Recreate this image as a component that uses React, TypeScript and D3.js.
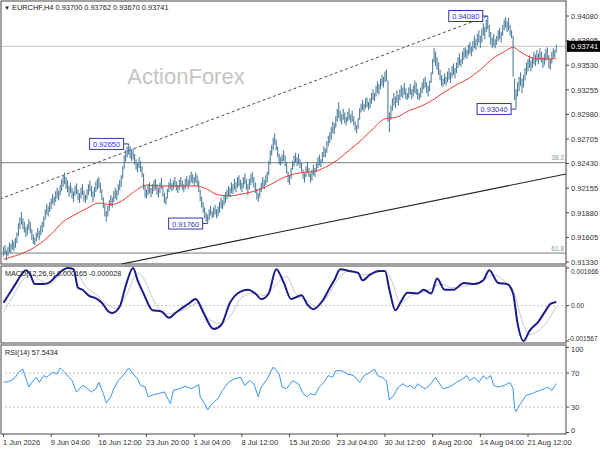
import * as d3 from 'd3';

// ---- data ----

const symbolTitle = 'EURCHF,H4';
const lastBarOhlc = ['0.93700', '0.93762', '0.93670', '0.93741'];
const lastClose = 0.93741;

// H4 bar highs and lows, pips above 0.90000 (one row = 32 bars)
const barHigh = [
  150, 152, 146, 150, 155, 153, 158, 156, 160, 166, 176, 183, 189, 182, 178, 172, 175, 181, 178, 170, 164, 160, 166, 171, 168, 174, 178, 184, 192, 198, 195, 200,
  204, 209, 206, 212, 216, 213, 219, 225, 229, 233, 228, 224, 218, 222, 216, 212, 218, 221, 214, 210, 216, 220, 213, 208, 214, 220, 224, 218, 212, 217, 223, 226,
  228, 222, 214, 205, 197, 190, 196, 202, 208, 205, 212, 216, 213, 220, 225, 230, 240, 252, 258, 262, 265, 262, 258, 260, 254, 248, 244, 250, 246, 240, 232, 218,
  214, 220, 222, 216, 220, 224, 226, 220, 216, 222, 227, 218, 210, 206, 215, 222, 226, 221, 224, 228, 223, 219, 225, 228, 224, 220, 226, 229, 225, 230, 234, 231,
  228, 233, 230, 224, 214, 206, 200, 194, 188, 186, 192, 196, 190, 194, 197, 192, 195, 200, 205, 202, 208, 211, 214, 218, 216, 222, 220, 226, 222, 228, 230, 225,
  222, 228, 232, 226, 220, 226, 231, 234, 228, 222, 215, 210, 216, 222, 228, 225, 230, 234, 246, 258, 264, 272, 277, 270, 262, 254, 250, 253, 258, 252, 244, 234,
  230, 238, 246, 252, 255, 250, 254, 248, 244, 236, 232, 240, 245, 238, 232, 236, 242, 238, 244, 250, 253, 248, 256, 262, 260, 268, 274, 278, 284, 290, 288, 296,
  304, 312, 302, 298, 304, 300, 295, 301, 305, 298, 302, 296, 290, 286, 294, 305, 310, 314, 310, 316, 317, 312, 316, 322, 326, 322, 330, 335, 332, 338, 342, 340,
  346, 348, 336, 300, 308, 316, 322, 318, 325, 320, 326, 331, 328, 333, 327, 322, 328, 332, 326, 330, 336, 333, 326, 322, 328, 334, 338, 340, 334, 330, 336, 345,
  360, 372, 368, 362, 356, 348, 342, 338, 344, 340, 346, 350, 345, 352, 355, 350, 356, 362, 366, 360, 368, 372, 373, 370, 376, 379, 374, 380, 386, 382, 388, 392,
  386, 394, 400, 396, 404, 408, 398, 390, 384, 388, 382, 386, 392, 395, 390, 398, 404, 407, 402, 406, 398, 392, 386, 338, 326, 334, 340, 345, 338, 342, 350, 356,
  360, 364, 358, 362, 368, 365, 370, 366, 372, 368, 362, 366, 371, 373, 364, 360, 368, 372, 370, 376,
];
const barLow = [
  139, 141, 135, 140, 144, 143, 147, 145, 149, 154, 162, 170, 175, 170, 166, 161, 163, 169, 165, 158, 153, 152, 156, 160, 158, 163, 166, 172, 180, 186, 184, 189,
  192, 198, 196, 200, 204, 202, 207, 212, 217, 220, 215, 211, 206, 210, 204, 200, 207, 209, 202, 199, 204, 208, 201, 199, 203, 208, 212, 206, 200, 205, 211, 214,
  216, 210, 202, 193, 184, 178, 184, 190, 196, 194, 200, 204, 202, 208, 213, 217, 226, 237, 245, 250, 253, 249, 246, 248, 242, 236, 233, 238, 234, 228, 214, 205,
  204, 208, 210, 205, 209, 212, 214, 208, 205, 210, 215, 206, 199, 197, 204, 211, 215, 212, 214, 217, 213, 210, 214, 217, 214, 211, 215, 218, 215, 219, 222, 221,
  218, 222, 218, 211, 201, 194, 188, 182, 178, 176, 180, 185, 182, 183, 186, 182, 184, 188, 193, 192, 196, 199, 203, 206, 205, 210, 209, 214, 211, 216, 218, 214,
  211, 216, 220, 214, 208, 214, 219, 222, 216, 210, 203, 200, 205, 211, 216, 214, 219, 222, 230, 242, 252, 258, 264, 258, 250, 242, 241, 243, 246, 240, 232, 222,
  219, 226, 236, 240, 244, 240, 242, 238, 234, 226, 222, 228, 233, 228, 222, 224, 230, 228, 234, 238, 241, 239, 244, 250, 250, 255, 262, 266, 270, 277, 276, 283,
  290, 294, 290, 287, 292, 288, 286, 290, 292, 288, 290, 286, 280, 277, 282, 292, 300, 303, 301, 305, 306, 303, 305, 310, 314, 313, 318, 322, 320, 326, 330, 328,
  334, 335, 290, 278, 292, 302, 308, 305, 311, 308, 314, 318, 316, 320, 315, 314, 316, 320, 315, 318, 322, 320, 315, 314, 317, 322, 326, 328, 322, 318, 324, 333,
  343, 356, 352, 348, 342, 336, 330, 329, 332, 330, 334, 337, 333, 339, 342, 338, 344, 350, 353, 351, 355, 359, 362, 360, 364, 366, 363, 368, 372, 370, 375, 378,
  372, 378, 386, 382, 390, 393, 384, 376, 372, 374, 372, 376, 380, 382, 378, 386, 392, 395, 390, 392, 386, 383, 340, 314, 304, 318, 324, 330, 322, 328, 336, 342,
  346, 350, 346, 350, 354, 352, 357, 354, 359, 356, 350, 353, 358, 360, 350, 348, 355, 361, 362, 367,
];

// red moving average: [bar, pips above 0.90000]
const maLine: [number, number][] = [
  [0, 136], [8, 140], [16, 145], [24, 153], [32, 164], [40, 178], [48, 186], [56, 193],
  [64, 199], [72, 197], [80, 202], [88, 212], [96, 219], [104, 218], [112, 218], [120, 218],
  [128, 218], [136, 215], [144, 208], [152, 207], [160, 209], [168, 212], [176, 217], [184, 224],
  [192, 230], [200, 233], [208, 234], [216, 239], [224, 247], [232, 258], [240, 269], [248, 282],
  [256, 293], [264, 295], [272, 302], [280, 307], [288, 314], [296, 323], [304, 331], [312, 338],
  [320, 348], [328, 360], [336, 368], [342, 373], [346, 369], [352, 363], [360, 360], [368, 360], [371, 361],
];

// MACD(12,26,9): [bar, value x 1e6]
const macdMain: [number, number][] = [
  [0, 125], [4, 539], [8, 953], [12, 1368], [15, 1566], [18, 1368], [21, 953], [27, 953], [31, 1036],
  [35, 1285], [39, 1533], [43, 1666], [47, 1616], [50, 787], [53, 704], [57, 456], [63, 290], [66, 125],
  [71, -291], [73, -324], [78, -41], [82, 870], [87, 1666], [90, 1119], [94, 539], [100, -208], [106, -257],
  [111, -539], [116, -291], [124, 75], [129, 290], [134, -291], [141, -1037], [146, -871], [152, 125],
  [159, 621], [164, 704], [169, 539], [173, 290], [178, 539], [183, 1616], [188, 1036], [193, 290],
  [200, 456], [204, 42], [208, -158], [214, 207], [219, 787], [222, 1119], [226, 1616], [232, 1533],
  [238, 1450], [241, 1119], [246, 1368], [252, 1533], [256, 1533], [259, 704], [263, -208], [267, 207],
  [271, 572], [278, 539], [282, 704], [287, 539], [291, 1202], [296, 704], [302, 704], [309, 1003],
  [316, 953], [322, 1119], [326, 1566], [332, 1003], [338, 953], [342, 539], [345, -788], [349, -1567],
  [353, -1120], [359, -705], [364, -208], [367, 75], [371, 165],
];
const macdSignal: [number, number][] = [
  [0, -291], [6, 373], [14, 1202], [19, 1368], [25, 1119], [31, 953], [37, 1285], [45, 1533], [50, 1368],
  [55, 870], [63, 456], [70, 42], [76, -125], [83, 539], [90, 1450], [94, 1202], [101, 207], [108, -373],
  [116, -291], [124, -91], [131, 125], [137, -539], [146, -800], [153, -373], [160, 373], [167, 539],
  [175, 456], [183, 953], [190, 1285], [196, 539], [204, 207], [210, -41], [217, 373], [224, 1119],
  [232, 1533], [241, 1368], [249, 1450], [256, 1533], [261, 1036], [266, 125], [274, 456], [283, 621],
  [294, 953], [301, 787], [310, 870], [320, 1036], [329, 1368], [337, 1036], [343, 539], [347, -456],
  [353, -1286], [357, -1203], [364, -788], [371, -28],
];
const macdLast = ['0.000165', '-0.000028'];
const macdRange = [-0.001567, 0.001666];

// RSI(14): [bar, value]
const rsiLine: [number, number][] = [
  [0, 59], [3, 60], [5, 61], [8, 65], [10, 70.8], [13, 74.6], [14, 69], [17, 53.5], [19, 59], [22, 65],
  [24, 59], [27, 67], [29, 65], [33, 70.8], [36, 69], [38, 76], [41, 70.8], [44, 65], [46, 61], [49, 47.7],
  [53, 55.4], [55, 53.5], [59, 47.7], [62, 51.5], [64, 59], [67, 45.8], [69, 35], [72, 42], [74, 51.5],
  [77, 61], [81, 68.8], [84, 76], [87, 68.8], [90, 63], [92, 55.4], [95, 53.5], [97, 42], [100, 44],
  [104, 45.8], [108, 47.7], [112, 34], [114, 49.6], [118, 51.5], [122, 54.5], [126, 51.5], [130, 55.4],
  [131, 56.5], [132, 42], [135, 34], [137, 26.5], [140, 34], [144, 40], [147, 49.6], [151, 59], [155, 63],
  [159, 65], [162, 55.4], [165, 61], [168, 57.3], [171, 42], [173, 53.5], [177, 63], [181, 77], [185, 68.8],
  [187, 53.5], [190, 51.5], [194, 61], [198, 57.3], [201, 45.8], [204, 42], [206, 45.8], [209, 44],
  [212, 53.5], [215, 59], [218, 66.9], [221, 65], [223, 72.7], [227, 72.7], [231, 68.8], [235, 67],
  [239, 59], [242, 67], [246, 70.8], [249, 74.6], [251, 67], [254, 65], [257, 61], [259, 38], [262, 44],
  [265, 53.5], [268, 57.3], [271, 53.5], [273, 55.4], [276, 51.5], [278, 57.3], [281, 53.5], [283, 51.5],
  [286, 55.4], [290, 65], [292, 59], [295, 51.5], [299, 53.5], [301, 55.4], [304, 59], [308, 63],
  [311, 66.9], [313, 61], [316, 65], [319, 59], [322, 66.9], [324, 63], [327, 66.9], [329, 55.4],
  [332, 53.5], [336, 55.4], [340, 59], [342, 51.5], [343, 28.5], [344, 24.6], [347, 34], [351, 44],
  [355, 45.8], [357, 47.7], [360, 49.6], [363, 51.5], [365, 53.5], [368, 49.6], [371, 57.5],
];
const rsiLast = '57.5434';
const rsiLevels = [70, 30];
const rsiTicks = [100, 70, 30, 0];

const priceTicks = [0.9133, 0.91605, 0.9188, 0.92155, 0.9243, 0.92705, 0.9298, 0.93255, 0.9353, 0.93805, 0.9408];
const swingLabels = [
  { bar: 84, price: 0.9265 },
  { bar: 137, price: 0.9176 },
  { bar: 325, price: 0.9408 },
  { bar: 344, price: 0.9304 },
];
const fibLevels = [
  { name: '38.2', price: 0.9244 },
  { name: '61.8', price: 0.9143 },
];
const dashedTrend: [number, number][] = [[-2.35, 0.92035], [325, 0.9408]];
const solidTrend: [number, number][] = [[79, 0.91306], [377.5, 0.92314]];

const dateLabels = [
  '1 Jun 2026', '9 Jun 04:00', '16 Jun 12:00', '23 Jun 20:00', '1 Jul 04:00', '8 Jul 12:00',
  '15 Jul 20:00', '23 Jul 04:00', '30 Jul 12:00', '6 Aug 20:00', '14 Aug 04:00', '21 Aug 12:00',
];
const barsPerDateLabel = 32;

// ---- layout ----
const plotLeft = 1;
const plotRight = 566;
const mainTop = 1;
const mainBottom = 264;
const macdTop = 266;
const macdBottom = 343;
const rsiTop = 345;
const rsiBottom = 434;

const font = '"Liberation Sans", Arial, sans-serif';
const axisText = '#303030';
const labelBlue = '#3434b0';

const pip = (v: number) => 0.9 + v / 10000;

export default function App() {
  const x = d3.scaleLinear().domain([0, 371]).range([3.5, 556.3]);
  const y = d3.scaleLinear().domain([0.9133, 0.9408]).range([262, 16]);
  const yMacd = d3.scaleLinear().domain(macdRange).range([341, 268]);
  const yRsi = d3.scaleLinear().domain([0, 100]).range([432.5, 347.5]);

  const maPath = d3.line<[number, number]>()
    .x(d => x(d[0]))
    .y(d => y(pip(d[1])))
    .curve(d3.curveMonotoneX)(maLine);

  const macdGen = d3.line<[number, number]>()
    .x(d => x(d[0]))
    .y(d => yMacd(d[1] / 1e6))
    .curve(d3.curveMonotoneX);

  const rsiPath = d3.line<[number, number]>()
    .x(d => x(d[0]))
    .y(d => yRsi(d[1]))(rsiLine);

  const clampIn = (v: number, lo: number, hi: number) => Math.min(Math.max(v, lo), hi);
  const nBars = Math.min(barHigh.length, barLow.length);

  return (
    <svg width={600} height={450} style={{ position: 'fixed', left: 0, top: 0, background: '#fff' }} fontFamily={font}>
      <defs>
        <clipPath id="main-clip">
          <rect x={plotLeft} y={mainTop} width={plotRight - plotLeft} height={mainBottom - mainTop} />
        </clipPath>
      </defs>

      {/* header */}
      <text x={4} y={10} fontSize={6} fill="#222">▼</text>
      <text x={12} y={10} fontSize={7.4} fill="#222">
        {symbolTitle}  {lastBarOhlc.join(' ')}
      </text>

      {/* watermark */}
      <text x={186} y={84} fontSize={22} fill="#c4c4c4" textAnchor="middle">ActionForex</text>

      <g clipPath="url(#main-clip)">
        {/* current price line */}
        <line x1={plotLeft} x2={plotRight} y1={y(lastClose)} y2={y(lastClose)} stroke="#c8c8c8" />

        {/* fibonacci levels */}
        {fibLevels.map(f => (
          <g key={f.name}>
            <line x1={plotLeft} x2={plotRight} y1={y(f.price)} y2={y(f.price)} stroke="#6e7e7e" />
            <text x={plotRight - 2} y={y(f.price) - 2.5} fontSize={6.5} fill="#8a9494" textAnchor="end">{f.name}</text>
          </g>
        ))}

        {/* trend lines */}
        <line x1={x(dashedTrend[0][0])} y1={y(dashedTrend[0][1])} x2={x(dashedTrend[1][0])} y2={y(dashedTrend[1][1])}
          stroke="#4a4a4a" strokeDasharray="3,2.5" />
        <line x1={x(solidTrend[0][0])} y1={y(solidTrend[0][1])} x2={x(solidTrend[1][0])} y2={y(solidTrend[1][1])}
          stroke="#222" strokeWidth={1.1} />

        {/* price bars */}
        {d3.range(nBars).map(i => (
          <line key={i} x1={x(i)} x2={x(i)} y1={y(pip(barHigh[i]))} y2={y(pip(barLow[i]))}
            stroke="#4f7f9e" strokeWidth={1.1} />
        ))}

        {/* moving average */}
        <path d={maPath ?? ''} fill="none" stroke="#f03a32" strokeWidth={1} />

        {/* swing high / low labels */}
        {swingLabels.map(s => {
          const bx = x(s.bar);
          const by = y(s.price);
          const right = bx - 5;
          return (
            <g key={s.bar}>
              <line x1={right} x2={bx} y1={by} y2={by} stroke={labelBlue} />
              <rect x={right - 34} y={by - 5.5} width={34} height={11} fill="#fff" stroke={labelBlue} />
              <text x={right - 17} y={by + 3} fontSize={7.5} fill={labelBlue} textAnchor="middle">{s.price.toFixed(5)}</text>
            </g>
          );
        })}
      </g>

      {/* panel frames */}
      <rect x={plotLeft} y={mainTop} width={plotRight - plotLeft} height={mainBottom - mainTop} fill="none" stroke="#444" />
      <rect x={plotLeft} y={macdTop} width={plotRight - plotLeft} height={macdBottom - macdTop} fill="none" stroke="#444" />
      <rect x={plotLeft} y={rsiTop} width={plotRight - plotLeft} height={rsiBottom - rsiTop} fill="none" stroke="#444" />

      {/* price axis */}
      {priceTicks.map(t => (
        <g key={t}>
          <line x1={plotRight} x2={plotRight + 3} y1={y(t)} y2={y(t)} stroke="#444" />
          <text x={plotRight + 5} y={y(t) + 2.8} fontSize={7.5} fill={axisText}>{t.toFixed(5)}</text>
        </g>
      ))}
      <rect x={plotRight + 1} y={y(lastClose) - 5.5} width={34} height={11} fill="#000" />
      <text x={plotRight + 5} y={y(lastClose) + 2.8} fontSize={7.5} fill="#fff">{lastClose.toFixed(5)}</text>

      {/* MACD panel */}
      <line x1={plotLeft} x2={plotRight} y1={yMacd(0)} y2={yMacd(0)} stroke="#c4c4c4" strokeDasharray="2,2" />
      <path d={macdGen(macdSignal) ?? ''} fill="none" stroke="#c8c8c8" strokeWidth={1} />
      <path d={macdGen(macdMain) ?? ''} fill="none" stroke="#1b1b8a" strokeWidth={2} />
      <text x={5} y={276} fontSize={7.2} fill="#222">MACD(12,26,9) {macdLast.join(' ')}</text>
      {[macdRange[1], 0, macdRange[0]].map(v => (
        <g key={v}>
          <line x1={plotRight} x2={plotRight + 3} y1={yMacd(v)} y2={yMacd(v)} stroke="#444" />
          <text x={v < 0 ? plotRight + 2 : plotRight + 5} y={clampIn(yMacd(v), macdTop + 5, macdBottom - 5) + 2.6}
            fontSize={6.6} fill={axisText}>
            {v === 0 ? '0.00' : v.toFixed(6)}
          </text>
        </g>
      ))}

      {/* RSI panel */}
      {rsiLevels.map(l => (
        <line key={l} x1={plotLeft} x2={plotRight} y1={yRsi(l)} y2={yRsi(l)} stroke="#c4c4c4" strokeDasharray="2,2" />
      ))}
      <path d={rsiPath ?? ''} fill="none" stroke="#3795f0" strokeWidth={1} />
      <text x={5} y={355} fontSize={7.2} fill="#222">RSI(14) {rsiLast}</text>
      {rsiTicks.map(v => (
        <g key={v}>
          <line x1={plotRight} x2={plotRight + 3} y1={yRsi(v)} y2={yRsi(v)} stroke="#444" />
          <text x={plotRight + 5} y={clampIn(yRsi(v), rsiTop + 4, rsiBottom - 4) + 2.8} fontSize={7.5} fill={axisText}>{v}</text>
        </g>
      ))}

      {/* time axis */}
      {dateLabels.map((label, k) => {
        const tx = x(k * barsPerDateLabel);
        return (
          <g key={label}>
            <line x1={tx} x2={tx} y1={rsiBottom} y2={rsiBottom + 3} stroke="#444" />
            <text x={tx - 0.5} y={445} fontSize={7.5} fill={axisText}>{label}</text>
          </g>
        );
      })}
    </svg>
  );
}
